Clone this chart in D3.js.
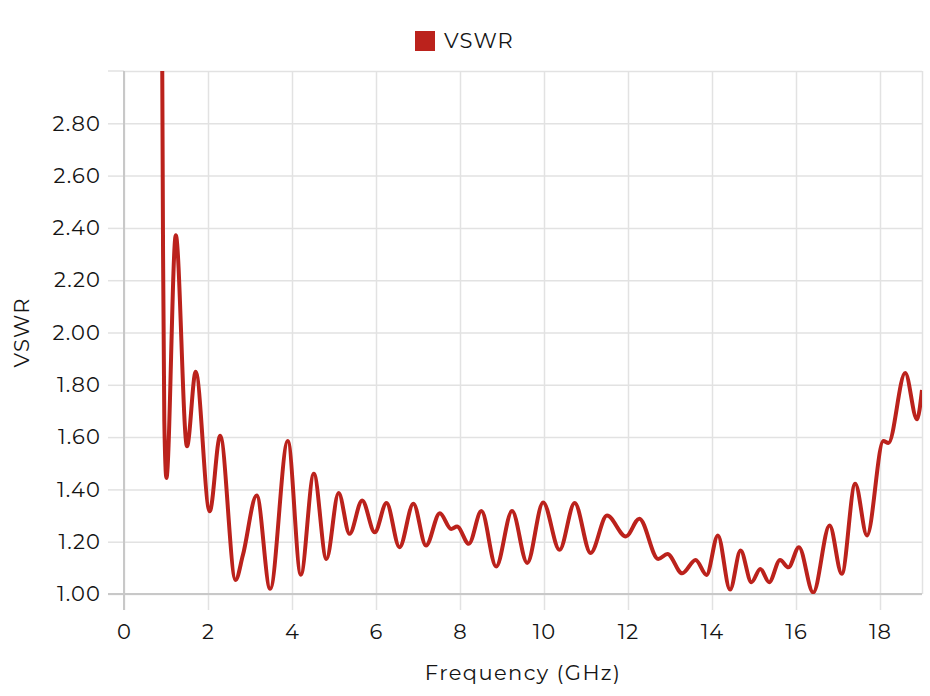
<!DOCTYPE html>
<html>
<head>
<meta charset="utf-8">
<script src="https://cdn.jsdelivr.net/npm/d3@7"></script>
<style>
  body { margin: 0; background: #fff; }
  svg text { font-family: Montserrat, Inter, sans-serif; font-size: 21px; letter-spacing: 1.1px; fill: #141414; }
  .grid line { stroke: #e2e2e2; stroke-width: 1.5; }
  .grid path { display: none; }
  .axis path { display: none; }
  .axis line { stroke: #e2e2e2; stroke-width: 1.5; }
  .line { fill: none; stroke: #bb221c; stroke-width: 4; stroke-linejoin: round; }
</style>
</head>
<body>
<div id="chart"></div>
<script>
var freqGHz = [0.90, 0.93, 0.96, 1.01, 1.233, 1.50, 1.707, 2.04, 2.29, 2.656, 2.83, 3.16, 3.48, 3.90,
  4.21, 4.52, 4.82, 5.11, 5.37, 5.67, 5.97, 6.25, 6.56, 6.89, 7.19, 7.52, 7.79, 7.93, 8.21,
  8.51, 8.86, 9.24, 9.60, 9.98, 10.37, 10.73, 11.11, 11.50, 11.95, 12.27, 12.72, 12.94, 13.29,
  13.61, 13.87, 14.14, 14.43, 14.68, 14.94, 15.15, 15.36, 15.62, 15.82, 16.07, 16.41, 16.80,
  17.09, 17.41, 17.69, 18.08, 18.20, 18.60, 18.88, 19.00];
var vswr = [3.40, 2.30, 1.66, 1.444, 2.372, 1.565, 1.850, 1.316, 1.605, 1.054, 1.148, 1.377, 1.02, 1.585,
  1.074, 1.46, 1.134, 1.386, 1.23, 1.358, 1.236, 1.348, 1.179, 1.345, 1.185, 1.309, 1.249, 1.258, 1.192,
  1.317, 1.105, 1.317, 1.119, 1.35, 1.169, 1.348, 1.157, 1.30, 1.22, 1.288, 1.134, 1.153, 1.079,
  1.13, 1.073, 1.224, 1.017, 1.166, 1.045, 1.096, 1.045, 1.13, 1.102, 1.179, 1.006, 1.262,
  1.077, 1.422, 1.224, 1.585, 1.577, 1.845, 1.668, 1.78];
var xTicks = [0, 2, 4, 6, 8, 10, 12, 14, 16, 18];
var yTicks = [1.0, 1.2, 1.4, 1.6, 1.8, 2.0, 2.2, 2.4, 2.6, 2.8];
var seriesName = "VSWR";

var margin = {top: 71, right: 8, bottom: 102, left: 124},
  fullWidth = 930,
  fullHeight = 696,
  width = fullWidth - margin.left - margin.right,
  height = fullHeight - margin.top - margin.bottom;

var data = freqGHz.map(function(f, i) { return {f: f, v: vswr[i]}; });

var xScale = d3.scaleLinear().domain([0, 19]).range([0, width]);
var yScale = d3.scaleLinear().domain([1, 3]).range([height, 0]);

var svg = d3.select('#chart').append('svg')
  .attr('width', fullWidth)
  .attr('height', fullHeight)
  .append('g')
  .attr('transform', 'translate(' + margin.left + ',' + margin.top + ')');

// grid lines
svg.append('g')
  .attr('class', 'grid')
  .call(d3.axisLeft(yScale).tickValues(yTicks.concat([3])).tickSize(-width).tickFormat(''));
svg.append('g')
  .attr('class', 'grid')
  .call(d3.axisTop(xScale).tickValues(xTicks.concat([19])).tickSize(-height).tickFormat(''));
svg.select('.grid').append('line')
  .attr('x1', -16).attr('x2', 0).attr('y1', 0).attr('y2', 0);

// y axis
svg.append('g')
  .attr('class', 'axis')
  .call(d3.axisLeft(yScale).tickValues(yTicks).tickSize(16).tickPadding(7)
    .tickFormat(d3.format('.2f')));

// x axis
svg.append('g')
  .attr('class', 'axis')
  .attr('transform', 'translate(0,' + height + ')')
  .call(d3.axisBottom(xScale).tickValues(xTicks).tickSize(16).tickPadding(14));

// axis lines
svg.append('line')
  .attr('x1', -16).attr('x2', width).attr('y1', height).attr('y2', height)
  .style('stroke', '#c8c8c8').style('stroke-width', 2);
svg.append('line')
  .attr('x1', 0).attr('x2', 0).attr('y1', 0).attr('y2', height + 16)
  .style('stroke', '#c8c8c8').style('stroke-width', 2);

// clip for the curve
svg.append('clipPath').attr('id', 'clip')
  .append('rect').attr('width', width).attr('height', height);

var line = d3.line()
  .x(function(d) { return xScale(d.f); })
  .y(function(d) { return yScale(d.v); })
  .curve(d3.curveMonotoneX);

svg.append('path')
  .datum(data)
  .attr('class', 'line')
  .attr('clip-path', 'url(#clip)')
  .attr('d', line);

// axis titles
svg.append('text')
  .attr('transform', 'translate(' + (width / 2) + ',' + (height + 86) + ')')
  .style('text-anchor', 'middle')
  .style('letter-spacing', '1.4px')
  .text('Frequency (GHz)');

svg.append('text')
  .attr('transform', 'rotate(-90)')
  .attr('x', -height / 2)
  .attr('y', -margin.left + 22)
  .attr('dy', '0.35em')
  .style('text-anchor', 'middle')
  .text('VSWR');

// legend
var legend = svg.append('g')
  .attr('transform', 'translate(' + (415 - margin.left) + ',' + (31 - margin.top) + ')');
legend.append('rect')
  .attr('width', 20)
  .attr('height', 20)
  .style('fill', '#bb221c');
legend.append('text')
  .attr('x', 29)
  .attr('y', 10)
  .attr('dy', '0.35em')
  .text(seriesName);
</script>
</body>
</html>
